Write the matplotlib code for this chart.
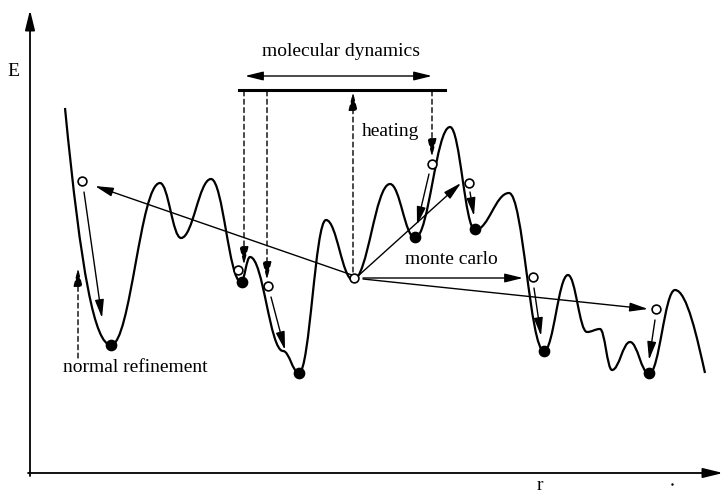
import matplotlib.pyplot as plt
from matplotlib.path import Path
from matplotlib.patches import PathPatch

# energy landscape: extrema of the curve (pixel coords, y downwards)
curve_x = [65, 111, 160, 181, 211, 241, 250, 283, 299, 326, 353, 390, 415,
           450, 475, 509, 544, 568, 587, 600, 612, 630, 649, 675, 705]
curve_y = [108, 345, 183, 238, 179, 282, 257, 351, 373, 220, 280, 184, 238,
           127, 230, 193, 351, 275, 332, 329, 370, 342, 374, 290, 373]

# open circles (starting structures) and filled dots (minima)
open_x = [82, 238, 268, 354, 432, 469, 533, 656]
open_y = [181, 270, 286, 278, 164, 183, 277, 309]
min_x = [111, 242, 299, 415, 475, 544, 649]
min_y = [345, 282, 373, 237, 229, 351, 373]

# refinement arrows (start -> end)
refine_from = [(84, 192), (271, 297), (429, 174), (470, 192), (534, 288), (655, 320)]
refine_to = [(102, 318), (285, 350), (417, 225), (474, 216), (541, 336), (649, 360)]

# monte carlo jumps from the central point
mc_from = [(352, 275), (358, 276), (363, 278), (363, 279)]
mc_to = [(95, 186), (461, 183), (523, 278), (648, 309)]

# molecular dynamics dashed arrows (start -> end)
md_from = [(244, 91), (267, 91), (353, 272), (432, 91)]
md_to = [(244, 265), (267, 280), (353, 92), (432, 157)]

fig = plt.figure(figsize=(7.23, 4.95), dpi=100)
ax = fig.add_axes([0, 0, 1, 1])
ax.set_xlim(0, 723)
ax.set_ylim(495, 0)
ax.axis('off')

# build bezier path through extrema with horizontal tangents
verts = [(curve_x[0], curve_y[0])]
codes = [Path.MOVETO]
n = len(curve_x)
for i in range(n - 1):
    x0, y0 = curve_x[i], curve_y[i]
    x1, y1 = curve_x[i+1], curve_y[i+1]
    dx, dy = x1 - x0, y1 - y0
    if i == 0:
        c1 = (x0 + 0.35*dx, y0 + 0.7*dy)
        c2 = (x1 - 0.35*dx, y1)
    elif i == n - 2:
        c1 = (x0 + 0.4*dx, y0)
        c2 = (x1 - 0.25*dx, y1 - 0.4*dy)
    else:
        c1 = (x0 + 0.4*dx, y0)
        c2 = (x1 - 0.4*dx, y1)
    verts += [c1, c2, (x1, y1)]
    codes += [Path.CURVE4]*3
ax.add_patch(PathPatch(Path(verts, codes), fill=False, lw=1.6, color='black'))

def arrow(p0, p1, style='-|>', ls='-', lw=1.0, ms=10):
    ax.annotate('', xy=p1, xytext=p0,
                arrowprops=dict(arrowstyle=style + ',head_length=1.1,head_width=0.27',
                                color='black', lw=lw, linestyle=ls,
                                shrinkA=0, shrinkB=0, mutation_scale=ms))

# axes
arrow((30, 476), (30, 10), lw=1.3, ms=11)
arrow((28, 473), (723, 473), lw=1.3, ms=11)

for p0, p1 in zip(refine_from, refine_to):
    arrow(p0, p1)
for p0, p1 in zip(mc_from, mc_to):
    arrow(p0, p1)
for p0, p1 in zip(md_from, md_to):
    arrow(p0, p1, ls=(0, (3.5, 2.5)))
arrow((78, 358), (78, 268), ls=(0, (3.5, 2.5)))

# molecular dynamics bar
ax.plot([239, 445], [90, 90], color='black', lw=2.2)
arrow((245, 76), (432, 76), style='<|-|>')

ax.scatter(open_x, open_y, s=40, facecolor='white', edgecolor='black',
           linewidth=1.2, zorder=5)
ax.scatter(min_x, min_y, s=55, color='black', zorder=5)
ax.plot([672], [484], marker='.', ms=1.5, color='black')

font = dict(family='Liberation Serif', fontsize=14, color='black')
ax.text(13, 72, 'E', ha='center', va='center', **font)
ax.text(540, 494, 'r', ha='center', va='bottom', **font)
ax.text(341, 52, 'molecular dynamics', ha='center', va='center', **font)
ax.text(391, 131, 'heating', ha='center', va='center', **font)
ax.text(451, 259, 'monte carlo', ha='center', va='center', **font)
ax.text(135, 367, 'normal refinement', ha='center', va='center', **font)

fig.savefig('out.png', dpi=100)
